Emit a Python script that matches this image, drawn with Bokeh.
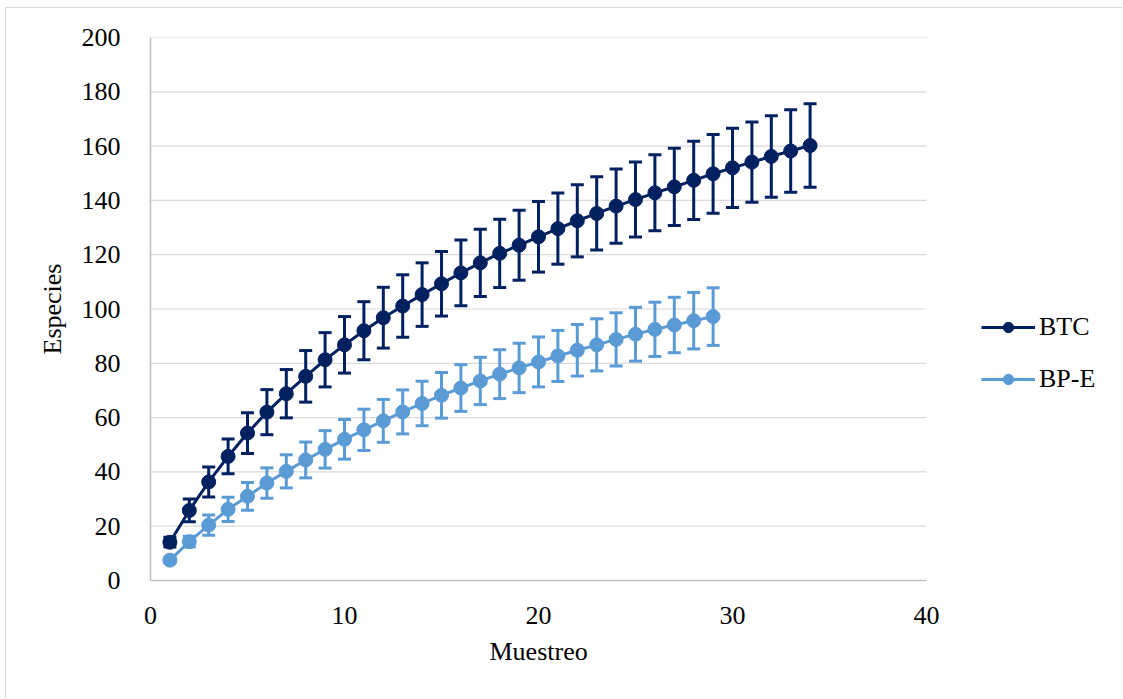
from bokeh.plotting import figure
from bokeh.models import (ColumnDataSource, Whisker, TeeHead, Legend, LegendItem,
                          FixedTicker, Range1d, Title)
from bokeh.embed import file_html
from bokeh.resources import INLINE

# ---- data ----
x_btc = [1, 2, 3, 4, 5, 6, 7, 8, 9, 10, 11, 12, 13, 14, 15, 16, 17, 18, 19, 20,
         21, 22, 23, 24, 25, 26, 27, 28, 29, 30, 31, 32, 33, 34]
btc_mean = [14.1, 25.8, 36.3, 45.7, 54.3, 62.0, 68.8, 75.2, 81.3, 86.8, 92.0, 96.8,
            101.1, 105.3, 109.3, 113.3, 117.0, 120.5, 123.5, 126.6, 129.6, 132.5,
            135.2, 137.9, 140.3, 142.8, 145.0, 147.4, 149.8, 152.0, 154.1, 156.2,
            158.2, 160.2]
btc_err = [1.8, 4.2, 5.5, 6.4, 7.5, 8.3, 8.9, 9.5, 10.0, 10.4, 10.7, 11.2, 11.5, 11.7,
           11.9, 12.1, 12.4, 12.6, 12.9, 13.0, 13.1, 13.3, 13.5, 13.7, 13.8, 14.0,
           14.2, 14.4, 14.5, 14.6, 14.8, 15.0, 15.2, 15.4]

x_bpe = [1, 2, 3, 4, 5, 6, 7, 8, 9, 10, 11, 12, 13, 14, 15, 16, 17, 18, 19, 20,
         21, 22, 23, 24, 25, 26, 27, 28, 29]
bpe_mean = [7.5, 14.3, 20.4, 26.2, 31.0, 35.9, 40.2, 44.4, 48.3, 52.0, 55.5, 58.8,
            62.1, 65.2, 68.2, 70.9, 73.5, 76.0, 78.3, 80.5, 82.7, 84.8, 86.8, 88.8,
            90.7, 92.5, 94.1, 95.7, 97.2]
bpe_err = [0.8, 2.0, 3.7, 4.5, 5.1, 5.6, 6.1, 6.6, 6.9, 7.3, 7.6, 7.9, 8.1, 8.2, 8.4,
           8.6, 8.7, 9.0, 9.1, 9.2, 9.4, 9.5, 9.6, 9.8, 9.9, 10.0, 10.2, 10.4, 10.6]

x_ticks = [0, 10, 20, 30, 40]
y_ticks = [0, 20, 40, 60, 80, 100, 120, 140, 160, 180, 200]

series_names = ["BTC", "BP-E"]
colors = ["#002060", "#5B9BD5"]
x_title = "Muestreo"
y_title = "Especies"

FONT = "Liberation Serif"
FS = "26px"

# layout: plot area (0..40) spans 776 px; frame extended to the right edge to host the legend
CANVAS_W, CANVAS_H = 1117, 691
LEFT, TOP, BOTTOM = 144, 29, 119
frame_w = CANVAS_W - LEFT
x_end = x_ticks[-1] * frame_w / 776.0

p = figure(width=CANVAS_W, height=CANVAS_H,
           x_range=Range1d(x_ticks[0], x_end), y_range=Range1d(y_ticks[0], y_ticks[-1]),
           output_backend="svg", toolbar_location=None,
           min_border_left=LEFT, min_border_right=0, min_border_top=TOP,
           min_border_bottom=BOTTOM)
p.styles = {"margin-left": "5px", "margin-top": "7px",
            "border-left": "1px solid #D9D9D9", "border-top": "1px solid #D9D9D9"}
p.outline_line_color = None
p.background_fill_color = "white"
p.border_fill_color = "white"

p.xgrid.grid_line_color = None
p.ygrid.grid_line_color = None

# horizontal gridlines limited to the 0..40 plot area
gy = y_ticks[1:]
p.segment(x0=[x_ticks[0]] * len(gy), x1=[x_ticks[-1]] * len(gy), y0=gy, y1=gy,
          line_color="#D9D9D9", line_width=1.2, level="underlay")

p.xaxis.ticker = FixedTicker(ticks=x_ticks)
p.yaxis.ticker = FixedTicker(ticks=y_ticks)
p.xaxis.bounds = (x_ticks[0], x_ticks[-1])
for ax in (p.xaxis[0], p.yaxis[0]):
    ax.axis_line_color = "#BFBFBF"
    ax.axis_line_width = 1.5
    ax.major_tick_line_color = None
    ax.minor_tick_line_color = None
    ax.major_label_text_font = FONT
    ax.major_label_text_font_size = FS
    ax.major_label_text_color = "#000000"
    ax.axis_label_text_font = FONT
    ax.axis_label_text_font_size = FS
    ax.axis_label_text_font_style = "normal"
    ax.axis_label_text_color = "#000000"

p.yaxis.axis_label = y_title
p.xaxis.major_label_standoff = 20
p.yaxis.major_label_standoff = 24
p.yaxis.axis_label_standoff = 12

# x-axis title centred under the 0..40 plot area (not the extended frame)
xt = Title(text=x_title, align="left", offset=339, text_font=FONT,
           text_font_size=FS, text_font_style="normal", text_color="#000000",
           standoff=17)
p.add_layout(xt, "below")

items = []
for name, xs, ys, es, col in [(series_names[0], x_btc, btc_mean, btc_err, colors[0]),
                              (series_names[1], x_bpe, bpe_mean, bpe_err, colors[1])]:
    src = ColumnDataSource(dict(x=xs, y=ys,
                                lo=[a - b for a, b in zip(ys, es)],
                                hi=[a + b for a, b in zip(ys, es)]))
    ln = p.line("x", "y", source=src, line_color=col, line_width=3)
    w = Whisker(source=src, base="x", lower="lo", upper="hi",
                line_color=col, line_width=3,
                upper_head=TeeHead(size=13, line_color=col, line_width=3),
                lower_head=TeeHead(size=13, line_color=col, line_width=3))
    p.add_layout(w)
    sc = p.scatter("x", "y", source=src, size=14, fill_color=col, line_color=col)
    items.append(LegendItem(label=name, renderers=[ln, sc]))

legend = Legend(items=items, location=(831, 186))
legend.label_text_font = FONT
legend.label_text_font_size = FS
legend.label_text_color = "#000000"
legend.glyph_width = 54
legend.glyph_height = 26
legend.label_height = 26
legend.label_standoff = 4
legend.spacing = 22
legend.padding = 0
legend.margin = 0
legend.border_line_color = None
legend.background_fill_alpha = 0
p.add_layout(legend, "center")

open("out.html", "w").write(file_html(p, INLINE))
